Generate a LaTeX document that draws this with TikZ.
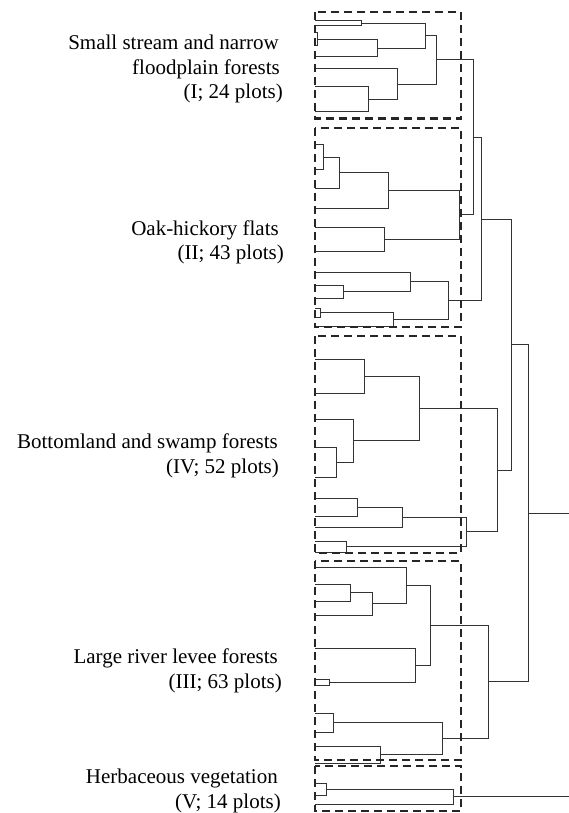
\documentclass[tikz,border=0pt]{standalone}
\usepackage{fontspec}
\setmainfont{Liberation Serif}
\begin{document}
\begin{tikzpicture}[x=1pt,y=-1pt,
  dline/.style={line width=1pt,draw=black!80},
  dbox/.style={line width=2.2pt,draw=black!85,dash pattern=on 8pt off 5pt},
  lab/.style={anchor=base east,inner sep=0pt,font=\rmfamily\fontsize{21}{25}\selectfont}]
\useasboundingbox[fill=white] (0,0) rectangle (569,813);
\newcommand{\mjoin}[3]{\draw[dline] (#1) -- (#1 -| #3) -- (#2 -| #3) -- (#2);}
% ---------- leaves ----------
\foreach \n/\y in {i1/21,i2/25.5,i3/33,i4/46,i5/57,i6/69,i7/87,i8/112,
  ii1/145,ii2/170,ii3/188,ii4/208,ii5/227,ii6/251,ii7/272,ii8/285.5,ii9/298,ii10/308.5,ii11/317,ii12/326,
  iv1/359,iv2/393,iv3/419,iv4/447,iv5/477,iv6/498,iv7/516,iv8/527,iv9/541,iv10/552,
  iii1/567,iii2/584,iii3/601,iii4/615,iii5/648,iii6/679,iii7/685,iii8/713,iii9/732,iii10/746,iii11/763,
  v1/783,v2/795,v3/804}
  {\coordinate (\n) at (315,\y);}
% ---------- joins ----------
\coordinate (J1) at (361,23.25);
\coordinate (J2) at (317,39.5);
\coordinate (J3) at (377,48.25);
\coordinate (J4) at (425,35.75);
\coordinate (J5) at (368,99.5);
\coordinate (J6) at (397,84.25);
\coordinate (J7) at (436,60);
\coordinate (K1) at (323,157.5);
\coordinate (K2) at (339,172.75);
\coordinate (K3) at (388,190.4);
\coordinate (K4) at (384,239);
\coordinate (K5) at (459,214.7);
\coordinate (K6) at (343,291.75);
\coordinate (K7) at (410,281.9);
\coordinate (K8) at (320,312.75);
\coordinate (K9) at (393,319.4);
\coordinate (K10) at (448,300.6);
\coordinate (L1) at (473,137.35);
\coordinate (L2) at (481,219);
\coordinate (M1) at (364,376);
\coordinate (M2) at (336,462);
\coordinate (M3) at (353,440.5);
\coordinate (M4) at (419,408.25);
\coordinate (M5) at (357,507);
\coordinate (M6) at (402,517);
\coordinate (M7) at (346,546.5);
\coordinate (M8) at (466,531.75);
\coordinate (M9) at (497,470);
\coordinate (L3) at (511,344.5);
\coordinate (N1) at (350,592.5);
\coordinate (N2) at (372,603.75);
\coordinate (N3) at (406,585.4);
\coordinate (N4) at (329,682);
\coordinate (N5) at (415,665);
\coordinate (N6) at (430,625.2);
\coordinate (N7) at (333,722.5);
\coordinate (N8) at (380,754.5);
\coordinate (N9) at (442,738.5);
\coordinate (N10) at (488,681.85);
\coordinate (L4) at (528,513.2);
\coordinate (R1) at (569,513.2);
\coordinate (P1) at (326,789);
\coordinate (P2) at (453,796.5);
\coordinate (R2) at (569,796.5);
% ---------- dendrogram ----------
\mjoin{i1}{i2}{J1}
\mjoin{i3}{i4}{J2}
\mjoin{J2}{i5}{J3}
\mjoin{J1}{J3}{J4}
\mjoin{i7}{i8}{J5}
\mjoin{i6}{J5}{J6}
\mjoin{J4}{J6}{J7}
\mjoin{ii1}{ii2}{K1}
\mjoin{K1}{ii3}{K2}
\mjoin{K2}{ii4}{K3}
\mjoin{ii5}{ii6}{K4}
\mjoin{K3}{K4}{K5}
\mjoin{ii8}{ii9}{K6}
\mjoin{ii7}{K6}{K7}
\mjoin{ii10}{ii11}{K8}
\mjoin{K8}{ii12}{K9}
\mjoin{K7}{K9}{K10}
\mjoin{J7}{K5}{L1}
\mjoin{L1}{K10}{L2}
\mjoin{iv1}{iv2}{M1}
\mjoin{iv4}{iv5}{M2}
\mjoin{iv3}{M2}{M3}
\mjoin{M1}{M3}{M4}
\mjoin{iv6}{iv7}{M5}
\mjoin{M5}{iv8}{M6}
\mjoin{iv9}{iv10}{M7}
\mjoin{M6}{M7}{M8}
\mjoin{M4}{M8}{M9}
\mjoin{L2}{M9}{L3}
\mjoin{iii2}{iii3}{N1}
\mjoin{N1}{iii4}{N2}
\mjoin{iii1}{N2}{N3}
\mjoin{iii6}{iii7}{N4}
\mjoin{iii5}{N4}{N5}
\mjoin{N3}{N5}{N6}
\mjoin{iii8}{iii9}{N7}
\mjoin{iii10}{iii11}{N8}
\mjoin{N7}{N8}{N9}
\mjoin{N6}{N9}{N10}
\mjoin{L3}{N10}{L4}
\draw[dline] (L4) -- (R1);
\mjoin{v1}{v2}{P1}
\mjoin{P1}{v3}{P2}
\draw[dline] (P2) -- (R2);
% ---------- dashed group boxes ----------
\draw[dbox] (315,12) rectangle (461,118.5);
\draw[dbox] (315,128) rectangle (461,327);
\draw[dbox] (315,336) rectangle (461,553);
\draw[dbox] (315,561) rectangle (461,760);
\draw[dbox] (315,766) rectangle (461,811);
% ---------- labels ----------
\node[lab] (t1a) at (279,50) {Small stream and narrow};
\node[lab] (t1b) at (280,75) {floodplain forests};
\node[lab] (t1c) at (283,99) {(I; 24 plots)};
\node[lab] (t2a) at (279,235) {Oak-hickory flats};
\node[lab] (t2b) at (284,259) {(II; 43 plots)};
\node[lab] (t4a) at (278,448) {Bottomland and swamp forests};
\node[lab] (t4b) at (279,473) {(IV; 52 plots)};
\node[lab] (t3a) at (278,663) {Large river levee forests};
\node[lab] (t3b) at (282,688) {(III; 63 plots)};
\node[lab] (t5a) at (278,783) {Herbaceous vegetation};
\node[lab] (t5b) at (281,808) {(V; 14 plots)};
\end{tikzpicture}
\end{document}
